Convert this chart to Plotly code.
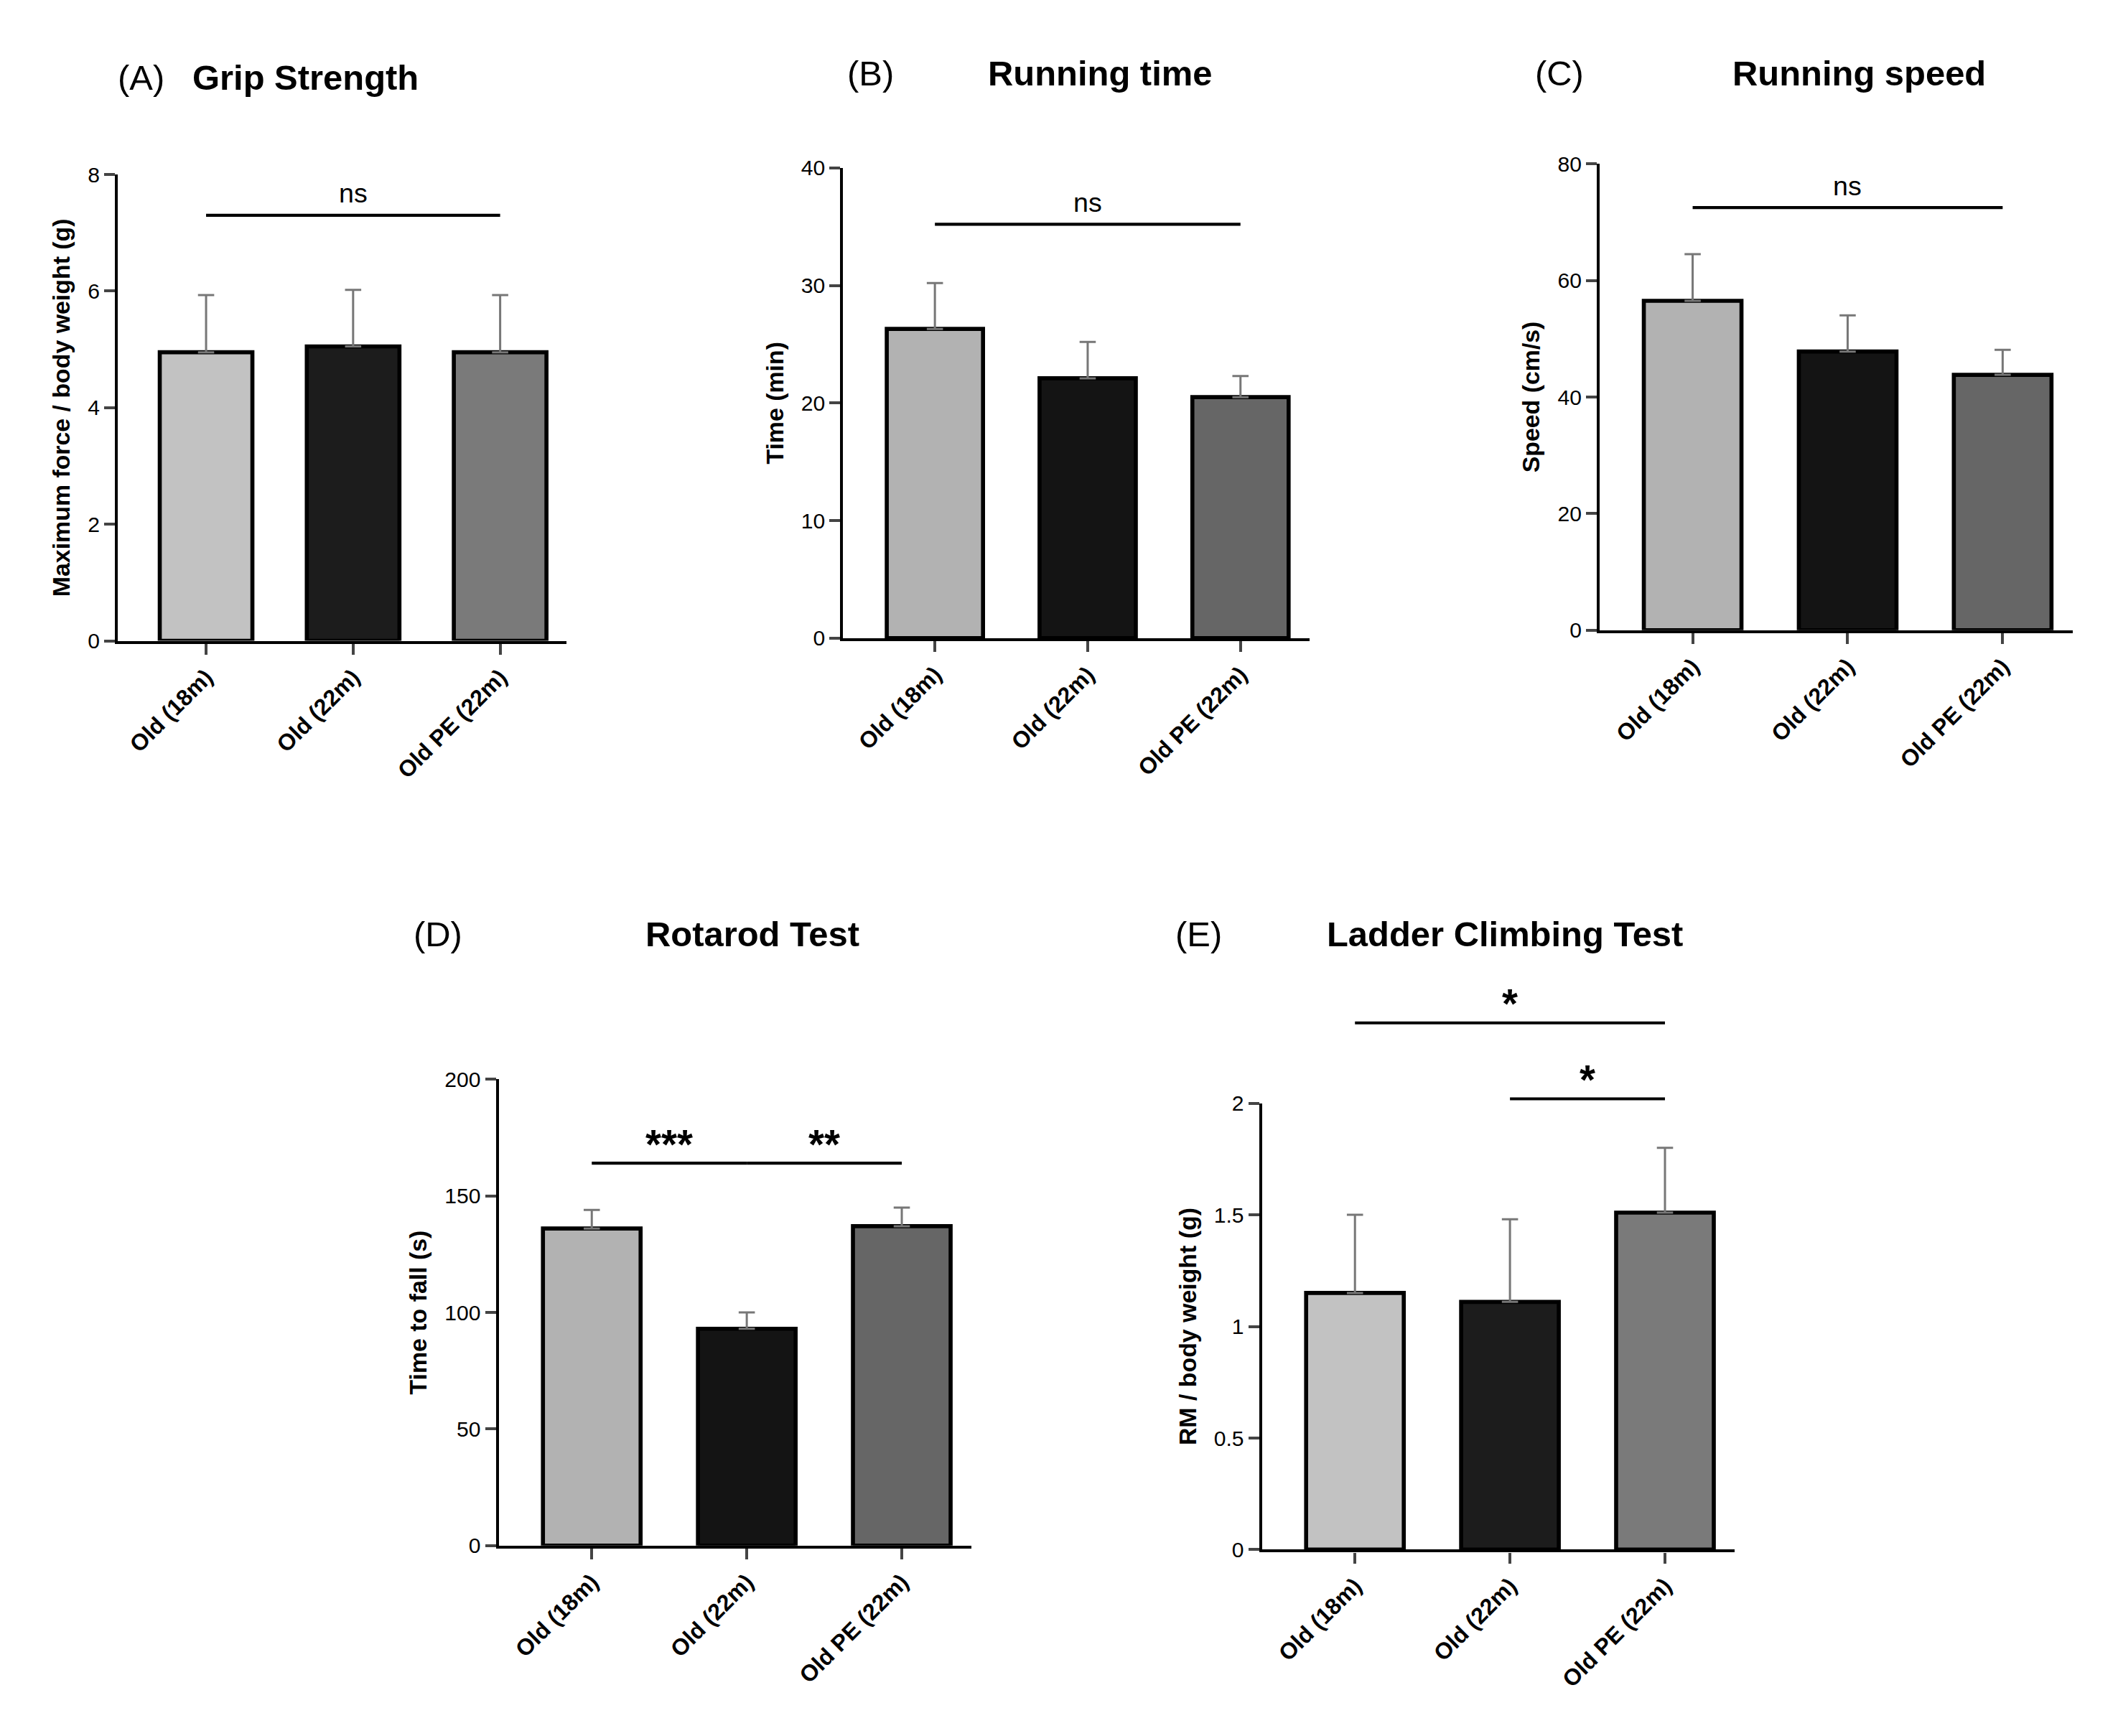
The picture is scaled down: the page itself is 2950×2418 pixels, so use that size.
import plotly.graph_objects as go

groups = ["Old (18m)", "Old (22m)", "Old PE (22m)"]

grip = [4.95, 5.05, 4.95]
grip_err = [0.98, 0.97, 0.98]
run_time = [26.3, 22.1, 20.5]
run_time_err = [3.9, 3.1, 1.8]
run_speed = [56.5, 47.8, 43.8]
run_speed_err = [8.0, 6.2, 4.3]
rotarod = [136, 93, 137]
rotarod_err = [8, 7, 8]
ladder = [1.15, 1.11, 1.51]
ladder_err = [0.35, 0.37, 0.29]

W, H = 1568, 1285
S = 2950 / W
FONT = "Liberation Sans"

# (label, title, ytitle, values, errors, ymax, dtick, pixel box, colours, brackets)
panels = [
    ("(A)", "Grip Strength", "Maximum force / body weight (g)", grip, grip_err, 8, 2,
     (83, 415, 118, 468), ["#c2c2c2", "#1c1c1c", "#7a7a7a"],
     [(0, 2, 7.3, "ns")]),
    ("(B)", "Running time", "Time (min)", run_time, run_time_err, 40, 10,
     (620, 965, 113, 466), ["#b2b2b2", "#141414", "#666666"],
     [(0, 2, 35.2, "ns")]),
    ("(C)", "Running speed", "Speed (cm/s)", run_speed, run_speed_err, 80, 20,
     (1180, 1530, 110, 460), ["#b2b2b2", "#141414", "#666666"],
     [(0, 2, 72.5, "ns")]),
    ("(D)", "Rotarod Test", "Time to fall (s)", rotarod, rotarod_err, 200, 50,
     (365, 715, 797, 1147), ["#b2b2b2", "#141414", "#666666"],
     [(0, 1, 164, "***"), (1, 2, 164, "**")]),
    ("(E)", "Ladder Climbing Test", "RM / body weight (g)", ladder, ladder_err, 2.0, 0.5,
     (930, 1280, 815, 1150), ["#c2c2c2", "#1c1c1c", "#7a7a7a"],
     [(0, 2, 2.36, "*"), (1, 2, 2.02, "*")]),
]

title_pos = [(100, 222, 45), (640, 810, 42), (1150, 1372, 42), (320, 553, 688), (883, 1110, 688)]

fig = go.Figure()
layout = dict(
    width=2950, height=2418, margin=dict(l=0, r=0, t=0, b=0),
    plot_bgcolor="white", paper_bgcolor="white", showlegend=False,
    font=dict(family=FONT, color="black"),
)
annotations = []
shapes = []

for i, (lab, title, ytitle, vals, errs, ymax, dt, box, cols, brackets) in enumerate(panels):
    n = "" if i == 0 else str(i + 1)
    x0, x1, y0, y1 = box
    layout["xaxis" + n] = dict(
        domain=[x0 / W, x1 / W], anchor="y" + n, range=[-0.6, 2.45],
        showline=True, linecolor="black", linewidth=2.2 * S, ticks="outside",
        ticklen=8 * S, tickwidth=2 * S, tickangle=-45, showgrid=False,
        tickfont=dict(size=17 * S, family=FONT, weight="bold"),
    )
    layout["yaxis" + n] = dict(
        domain=[1 - y1 / H, 1 - y0 / H], anchor="x" + n, range=[0, ymax],
        dtick=dt, showline=True, linecolor="black", linewidth=2.2 * S,
        ticks="outside", ticklen=8 * S, tickwidth=2 * S, showgrid=False,
        zeroline=False, tickfont=dict(size=16 * S, family=FONT),
        title=dict(text=ytitle, font=dict(size=18 * S, family=FONT, weight="bold"), standoff=8 * S),
    )
    fig.add_trace(go.Bar(
        x=groups, y=vals, xaxis="x" + n, yaxis="y" + n, width=0.63,
        marker=dict(color=cols, line=dict(color="black", width=3 * S)),
        error_y=dict(type="data", array=errs, arrayminus=[0, 0, 0], symmetric=False,
                     color="#777777", thickness=1.6 * S, width=6 * S),
    ))
    lx, tx, ty = title_pos[i]
    annotations.append(dict(text=lab, x=lx / W, y=1 - ty / H, xref="paper", yref="paper",
                            xanchor="center", yanchor="middle", showarrow=False,
                            font=dict(size=26 * S, family=FONT)))
    annotations.append(dict(text="<b>" + title + "</b>", x=tx / W, y=1 - ty / H, xref="paper",
                            yref="paper", xanchor="center", yanchor="middle", showarrow=False,
                            font=dict(size=26 * S, family=FONT)))
    for a, b, yv, txt in brackets:
        shapes.append(dict(type="line", xref="x" + n, yref="y" + n + " domain",
                           x0=a, x1=b, y0=yv / ymax, y1=yv / ymax,
                           line=dict(color="black", width=2.2 * S)))
        star = "*" in txt
        annotations.append(dict(text="<b>" + txt + "</b>" if star else txt,
                                x=(a + b) / 2, y=yv / ymax, xref="x" + n,
                                yref="y" + n + " domain", yanchor="bottom",
                                yshift=(-4 if star else 4) * S, showarrow=False,
                                font=dict(size=(30 if star else 20) * S, family=FONT)))

layout["annotations"] = annotations
layout["shapes"] = shapes
fig.update_layout(**layout)
fig.write_html("out.html")
